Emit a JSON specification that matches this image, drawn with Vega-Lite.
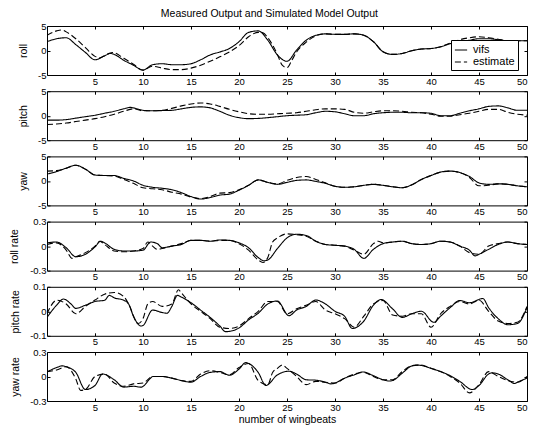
{
"$schema":"https://vega.github.io/schema/vega-lite/v6.json",
"padding":{"left":8,"top":9,"right":10,"bottom":0},
"title":{"text":"Measured Output and Simulated Model Output","fontSize":10.5,"fontWeight":"normal","anchor":"middle","offset":1,"color":"black"},
"config":{"font":"Liberation Sans","view":{"stroke":"black","strokeWidth":1},
"axis":{"grid":false,"domain":false,"tickColor":"black","tickSize":-3,"labelColor":"black","labelFontSize":9.5,"titleColor":"black","titleFontSize":10.5,"titleFontWeight":"normal","labelPadding":4,"titlePadding":5,"format":"~g","labelExpr":"replace(datum.label,'\u2212','-')"},
"axisY":{"titleBaseline":"middle"},
"line":{"strokeWidth":1.1,"color":"black"}},
"spacing":16.2,"bounds":"flush",
"resolve":{"scale":{"strokeDash":"independent"},"legend":{"strokeDash":"independent"}},
"datasets":{
"roll":[
{"x":0,"y":1.8,"s":"vifs"},{"x":1,"y":2.4,"s":"vifs"},{"x":2,"y":2.6,"s":"vifs"},{"x":3,"y":1.2,"s":"vifs"},{"x":4,"y":-0.4,"s":"vifs"},{"x":5,"y":-1.9,"s":"vifs"},{"x":6,"y":-1.1,"s":"vifs"},{"x":6.6,"y":-0.6,"s":"vifs"},{"x":7,"y":-0.8,"s":"vifs"},{"x":8,"y":-2.0,"s":"vifs"},{"x":9,"y":-3.0,"s":"vifs"},{"x":10,"y":-4.0,"s":"vifs"},{"x":11,"y":-2.9,"s":"vifs"},{"x":12,"y":-2.7,"s":"vifs"},{"x":13,"y":-2.9,"s":"vifs"},{"x":14,"y":-2.9,"s":"vifs"},{"x":15,"y":-2.7,"s":"vifs"},{"x":16,"y":-1.9,"s":"vifs"},{"x":17,"y":-0.9,"s":"vifs"},{"x":18,"y":-0.3,"s":"vifs"},{"x":19,"y":0.4,"s":"vifs"},{"x":20,"y":1.8,"s":"vifs"},{"x":21,"y":3.7,"s":"vifs"},{"x":22,"y":4.0,"s":"vifs"},{"x":23,"y":2.1,"s":"vifs"},{"x":24,"y":-0.9,"s":"vifs"},{"x":25,"y":-2.2,"s":"vifs"},{"x":26,"y":0.1,"s":"vifs"},{"x":27,"y":2.1,"s":"vifs"},{"x":28,"y":3.1,"s":"vifs"},{"x":29,"y":3.4,"s":"vifs"},{"x":30,"y":3.3,"s":"vifs"},{"x":31,"y":3.3,"s":"vifs"},{"x":32,"y":3.4,"s":"vifs"},{"x":33,"y":3.1,"s":"vifs"},{"x":34,"y":1.8,"s":"vifs"},{"x":35,"y":-0.25,"s":"vifs"},{"x":36,"y":-0.8,"s":"vifs"},{"x":37,"y":-0.6,"s":"vifs"},{"x":38,"y":-0.05,"s":"vifs"},{"x":39,"y":0.3,"s":"vifs"},{"x":40,"y":0.4,"s":"vifs"},{"x":41,"y":0.75,"s":"vifs"},{"x":42,"y":1.4,"s":"vifs"},{"x":43,"y":1.8,"s":"vifs"},{"x":44,"y":2.1,"s":"vifs"},{"x":45,"y":2.4,"s":"vifs"},{"x":46,"y":2.4,"s":"vifs"},{"x":47,"y":2.2,"s":"vifs"},{"x":48,"y":2.0,"s":"vifs"},{"x":49,"y":2.0,"s":"vifs"},{"x":50,"y":2.0,"s":"vifs"},
{"x":0,"y":3.1,"s":"estimate"},{"x":1,"y":4.0,"s":"estimate"},{"x":1.5,"y":4.2,"s":"estimate"},{"x":2,"y":3.8,"s":"estimate"},{"x":3,"y":2.4,"s":"estimate"},{"x":4,"y":0.6,"s":"estimate"},{"x":5,"y":-1.2,"s":"estimate"},{"x":5.5,"y":-1.5,"s":"estimate"},{"x":6,"y":-1.0,"s":"estimate"},{"x":6.8,"y":-0.4,"s":"estimate"},{"x":8,"y":-1.6,"s":"estimate"},{"x":9,"y":-2.8,"s":"estimate"},{"x":10,"y":-4.0,"s":"estimate"},{"x":11,"y":-3.2,"s":"estimate"},{"x":12,"y":-3.6,"s":"estimate"},{"x":13,"y":-3.9,"s":"estimate"},{"x":14,"y":-3.9,"s":"estimate"},{"x":15,"y":-3.6,"s":"estimate"},{"x":16,"y":-3.0,"s":"estimate"},{"x":17,"y":-2.2,"s":"estimate"},{"x":18,"y":-1.3,"s":"estimate"},{"x":19,"y":-0.3,"s":"estimate"},{"x":20,"y":1.0,"s":"estimate"},{"x":21,"y":2.8,"s":"estimate"},{"x":22,"y":3.7,"s":"estimate"},{"x":22.5,"y":3.6,"s":"estimate"},{"x":23,"y":2.6,"s":"estimate"},{"x":24,"y":-0.8,"s":"estimate"},{"x":24.5,"y":-3.0,"s":"estimate"},{"x":25,"y":-3.5,"s":"estimate"},{"x":25.5,"y":-2.0,"s":"estimate"},{"x":26,"y":-0.3,"s":"estimate"},{"x":27,"y":1.7,"s":"estimate"},{"x":28,"y":3.0,"s":"estimate"},{"x":29,"y":3.4,"s":"estimate"},{"x":30,"y":3.3,"s":"estimate"},{"x":31,"y":3.3,"s":"estimate"},{"x":32,"y":3.4,"s":"estimate"},{"x":33,"y":3.1,"s":"estimate"},{"x":34,"y":1.8,"s":"estimate"},{"x":35,"y":-0.25,"s":"estimate"},{"x":36,"y":-0.8,"s":"estimate"},{"x":37,"y":-0.6,"s":"estimate"},{"x":38,"y":-0.05,"s":"estimate"},{"x":39,"y":0.3,"s":"estimate"},{"x":40,"y":0.4,"s":"estimate"},{"x":41,"y":0.75,"s":"estimate"},{"x":42,"y":1.5,"s":"estimate"},{"x":43,"y":2.2,"s":"estimate"},{"x":44,"y":2.6,"s":"estimate"},{"x":45,"y":2.8,"s":"estimate"},{"x":46,"y":2.6,"s":"estimate"},{"x":47,"y":2.3,"s":"estimate"},{"x":48,"y":2.0,"s":"estimate"},{"x":49,"y":2.0,"s":"estimate"},{"x":50,"y":2.0,"s":"estimate"}],
"pitch":[
{"x":0,"y":-0.9,"s":"vifs"},{"x":1,"y":-0.9,"s":"vifs"},{"x":2,"y":-0.8,"s":"vifs"},{"x":3,"y":-0.5,"s":"vifs"},{"x":4,"y":-0.2,"s":"vifs"},{"x":5,"y":0.1,"s":"vifs"},{"x":6,"y":0.5,"s":"vifs"},{"x":7,"y":0.9,"s":"vifs"},{"x":8,"y":1.4,"s":"vifs"},{"x":8.7,"y":1.7,"s":"vifs"},{"x":9,"y":1.6,"s":"vifs"},{"x":10,"y":1.1,"s":"vifs"},{"x":11,"y":1.0,"s":"vifs"},{"x":12,"y":1.05,"s":"vifs"},{"x":13,"y":1.1,"s":"vifs"},{"x":14,"y":1.4,"s":"vifs"},{"x":15,"y":1.7,"s":"vifs"},{"x":16,"y":1.8,"s":"vifs"},{"x":17,"y":1.6,"s":"vifs"},{"x":18,"y":0.9,"s":"vifs"},{"x":19,"y":0.1,"s":"vifs"},{"x":20,"y":-0.4,"s":"vifs"},{"x":21,"y":-0.6,"s":"vifs"},{"x":22,"y":-0.55,"s":"vifs"},{"x":23,"y":-0.4,"s":"vifs"},{"x":24,"y":-0.2,"s":"vifs"},{"x":25,"y":0.0,"s":"vifs"},{"x":26,"y":0.1,"s":"vifs"},{"x":27,"y":0.2,"s":"vifs"},{"x":28,"y":0.6,"s":"vifs"},{"x":29,"y":0.9,"s":"vifs"},{"x":30,"y":0.8,"s":"vifs"},{"x":31,"y":0.4,"s":"vifs"},{"x":32,"y":0.0,"s":"vifs"},{"x":33,"y":0.0,"s":"vifs"},{"x":34,"y":0.4,"s":"vifs"},{"x":35,"y":0.6,"s":"vifs"},{"x":36,"y":0.7,"s":"vifs"},{"x":37,"y":0.7,"s":"vifs"},{"x":38,"y":0.6,"s":"vifs"},{"x":39,"y":0.6,"s":"vifs"},{"x":40,"y":0.5,"s":"vifs"},{"x":41,"y":0.0,"s":"vifs"},{"x":42,"y":0.0,"s":"vifs"},{"x":43,"y":0.5,"s":"vifs"},{"x":44,"y":1.0,"s":"vifs"},{"x":45,"y":1.4,"s":"vifs"},{"x":46,"y":1.9,"s":"vifs"},{"x":47,"y":2.0,"s":"vifs"},{"x":48,"y":1.6,"s":"vifs"},{"x":49,"y":1.1,"s":"vifs"},{"x":50,"y":1.1,"s":"vifs"},
{"x":0,"y":-1.8,"s":"estimate"},{"x":1,"y":-1.7,"s":"estimate"},{"x":2,"y":-1.5,"s":"estimate"},{"x":3,"y":-1.2,"s":"estimate"},{"x":4,"y":-0.9,"s":"estimate"},{"x":5,"y":-0.6,"s":"estimate"},{"x":6,"y":-0.2,"s":"estimate"},{"x":7,"y":0.3,"s":"estimate"},{"x":8,"y":0.9,"s":"estimate"},{"x":9,"y":1.4,"s":"estimate"},{"x":10,"y":1.0,"s":"estimate"},{"x":11,"y":1.0,"s":"estimate"},{"x":12,"y":1.1,"s":"estimate"},{"x":13,"y":1.5,"s":"estimate"},{"x":14,"y":2.0,"s":"estimate"},{"x":15,"y":2.4,"s":"estimate"},{"x":16,"y":2.6,"s":"estimate"},{"x":17,"y":2.4,"s":"estimate"},{"x":18,"y":1.9,"s":"estimate"},{"x":19,"y":1.3,"s":"estimate"},{"x":20,"y":0.8,"s":"estimate"},{"x":21,"y":0.4,"s":"estimate"},{"x":22,"y":0.3,"s":"estimate"},{"x":23,"y":0.3,"s":"estimate"},{"x":24,"y":0.4,"s":"estimate"},{"x":25,"y":0.5,"s":"estimate"},{"x":26,"y":0.6,"s":"estimate"},{"x":27,"y":0.9,"s":"estimate"},{"x":28,"y":1.2,"s":"estimate"},{"x":29,"y":1.4,"s":"estimate"},{"x":30,"y":1.4,"s":"estimate"},{"x":31,"y":1.3,"s":"estimate"},{"x":32,"y":0.7,"s":"estimate"},{"x":33,"y":0.5,"s":"estimate"},{"x":34,"y":0.8,"s":"estimate"},{"x":35,"y":1.0,"s":"estimate"},{"x":36,"y":1.0,"s":"estimate"},{"x":37,"y":0.9,"s":"estimate"},{"x":38,"y":0.7,"s":"estimate"},{"x":39,"y":0.6,"s":"estimate"},{"x":40,"y":0.3,"s":"estimate"},{"x":41,"y":-0.1,"s":"estimate"},{"x":42,"y":-0.1,"s":"estimate"},{"x":43,"y":0.2,"s":"estimate"},{"x":44,"y":0.5,"s":"estimate"},{"x":45,"y":0.9,"s":"estimate"},{"x":46,"y":1.3,"s":"estimate"},{"x":47,"y":1.3,"s":"estimate"},{"x":48,"y":0.7,"s":"estimate"},{"x":49,"y":0.3,"s":"estimate"},{"x":50,"y":0.1,"s":"estimate"}],
"yaw":[
{"x":0,"y":1.4,"s":"vifs"},{"x":1,"y":1.9,"s":"vifs"},{"x":2,"y":2.6,"s":"vifs"},{"x":3,"y":3.2,"s":"vifs"},{"x":4,"y":2.4,"s":"vifs"},{"x":5,"y":1.2,"s":"vifs"},{"x":6,"y":1.1,"s":"vifs"},{"x":7,"y":1.1,"s":"vifs"},{"x":8,"y":0.5,"s":"vifs"},{"x":9,"y":0.0,"s":"vifs"},{"x":10,"y":-0.9,"s":"vifs"},{"x":11,"y":-1.3,"s":"vifs"},{"x":12,"y":-1.5,"s":"vifs"},{"x":13,"y":-1.8,"s":"vifs"},{"x":14,"y":-2.4,"s":"vifs"},{"x":15,"y":-3.2,"s":"vifs"},{"x":16,"y":-3.7,"s":"vifs"},{"x":17,"y":-3.4,"s":"vifs"},{"x":18,"y":-2.9,"s":"vifs"},{"x":19,"y":-2.7,"s":"vifs"},{"x":20,"y":-1.9,"s":"vifs"},{"x":21,"y":-0.9,"s":"vifs"},{"x":22,"y":0.2,"s":"vifs"},{"x":23,"y":-0.3,"s":"vifs"},{"x":24,"y":-0.7,"s":"vifs"},{"x":25,"y":-0.3,"s":"vifs"},{"x":26,"y":0.1,"s":"vifs"},{"x":27,"y":0.2,"s":"vifs"},{"x":28,"y":-0.1,"s":"vifs"},{"x":29,"y":-0.5,"s":"vifs"},{"x":30,"y":-1.1,"s":"vifs"},{"x":31,"y":-1.3,"s":"vifs"},{"x":32,"y":-1.2,"s":"vifs"},{"x":33,"y":-0.9,"s":"vifs"},{"x":34,"y":-0.7,"s":"vifs"},{"x":35,"y":-0.9,"s":"vifs"},{"x":36,"y":-1.2,"s":"vifs"},{"x":37,"y":-1.4,"s":"vifs"},{"x":38,"y":-0.8,"s":"vifs"},{"x":39,"y":0.3,"s":"vifs"},{"x":40,"y":1.1,"s":"vifs"},{"x":41,"y":1.8,"s":"vifs"},{"x":42,"y":2.0,"s":"vifs"},{"x":43,"y":1.7,"s":"vifs"},{"x":44,"y":0.9,"s":"vifs"},{"x":45,"y":-0.4,"s":"vifs"},{"x":46,"y":-0.7,"s":"vifs"},{"x":47,"y":-0.6,"s":"vifs"},{"x":48,"y":-0.7,"s":"vifs"},{"x":49,"y":-1.0,"s":"vifs"},{"x":50,"y":-1.2,"s":"vifs"},
{"x":0,"y":2.0,"s":"estimate"},{"x":1,"y":2.1,"s":"estimate"},{"x":2,"y":2.6,"s":"estimate"},{"x":3,"y":3.2,"s":"estimate"},{"x":4,"y":2.4,"s":"estimate"},{"x":5,"y":1.2,"s":"estimate"},{"x":6,"y":1.1,"s":"estimate"},{"x":7,"y":1.0,"s":"estimate"},{"x":8,"y":0.3,"s":"estimate"},{"x":9,"y":-0.5,"s":"estimate"},{"x":10,"y":-1.4,"s":"estimate"},{"x":11,"y":-1.6,"s":"estimate"},{"x":12,"y":-1.8,"s":"estimate"},{"x":13,"y":-2.3,"s":"estimate"},{"x":14,"y":-2.7,"s":"estimate"},{"x":15,"y":-3.3,"s":"estimate"},{"x":16,"y":-3.6,"s":"estimate"},{"x":17,"y":-3.2,"s":"estimate"},{"x":18,"y":-2.5,"s":"estimate"},{"x":19,"y":-2.4,"s":"estimate"},{"x":20,"y":-1.8,"s":"estimate"},{"x":21,"y":-0.9,"s":"estimate"},{"x":22,"y":0.2,"s":"estimate"},{"x":23,"y":-0.3,"s":"estimate"},{"x":24,"y":-0.6,"s":"estimate"},{"x":25,"y":0.1,"s":"estimate"},{"x":26,"y":0.7,"s":"estimate"},{"x":27,"y":0.9,"s":"estimate"},{"x":28,"y":0.3,"s":"estimate"},{"x":29,"y":-0.4,"s":"estimate"},{"x":30,"y":-1.1,"s":"estimate"},{"x":31,"y":-1.3,"s":"estimate"},{"x":32,"y":-1.2,"s":"estimate"},{"x":33,"y":-0.9,"s":"estimate"},{"x":34,"y":-0.7,"s":"estimate"},{"x":35,"y":-0.9,"s":"estimate"},{"x":36,"y":-1.2,"s":"estimate"},{"x":37,"y":-1.4,"s":"estimate"},{"x":38,"y":-0.8,"s":"estimate"},{"x":39,"y":0.3,"s":"estimate"},{"x":40,"y":1.1,"s":"estimate"},{"x":41,"y":1.8,"s":"estimate"},{"x":42,"y":2.0,"s":"estimate"},{"x":43,"y":1.7,"s":"estimate"},{"x":44,"y":0.7,"s":"estimate"},{"x":45,"y":-1.0,"s":"estimate"},{"x":46,"y":-0.9,"s":"estimate"},{"x":47,"y":-0.6,"s":"estimate"},{"x":48,"y":-0.7,"s":"estimate"},{"x":49,"y":-1.0,"s":"estimate"},{"x":50,"y":-1.2,"s":"estimate"}],
"rollrate":[
{"x":0,"y":0.04,"s":"vifs"},{"x":1,"y":0.05,"s":"vifs"},{"x":2,"y":-0.02,"s":"vifs"},{"x":3,"y":-0.13,"s":"vifs"},{"x":4,"y":-0.1,"s":"vifs"},{"x":5,"y":-0.01,"s":"vifs"},{"x":5.6,"y":0.06,"s":"vifs"},{"x":6,"y":0.04,"s":"vifs"},{"x":7,"y":-0.04,"s":"vifs"},{"x":8,"y":-0.06,"s":"vifs"},{"x":9,"y":-0.06,"s":"vifs"},{"x":10,"y":-0.05,"s":"vifs"},{"x":10.8,"y":0.05,"s":"vifs"},{"x":11.5,"y":0.03,"s":"vifs"},{"x":12,"y":-0.02,"s":"vifs"},{"x":13,"y":0.0,"s":"vifs"},{"x":14,"y":0.02,"s":"vifs"},{"x":15,"y":0.07,"s":"vifs"},{"x":16,"y":0.07,"s":"vifs"},{"x":17,"y":0.06,"s":"vifs"},{"x":18,"y":0.075,"s":"vifs"},{"x":19,"y":0.07,"s":"vifs"},{"x":20,"y":0.04,"s":"vifs"},{"x":21,"y":-0.02,"s":"vifs"},{"x":22,"y":-0.14,"s":"vifs"},{"x":22.6,"y":-0.18,"s":"vifs"},{"x":23,"y":-0.17,"s":"vifs"},{"x":24,"y":-0.03,"s":"vifs"},{"x":25,"y":0.1,"s":"vifs"},{"x":26,"y":0.145,"s":"vifs"},{"x":27,"y":0.13,"s":"vifs"},{"x":28,"y":0.06,"s":"vifs"},{"x":29,"y":0.02,"s":"vifs"},{"x":30,"y":0.01,"s":"vifs"},{"x":31,"y":0.0,"s":"vifs"},{"x":32,"y":-0.04,"s":"vifs"},{"x":33,"y":-0.15,"s":"vifs"},{"x":34,"y":-0.04,"s":"vifs"},{"x":35,"y":0.03,"s":"vifs"},{"x":36,"y":0.05,"s":"vifs"},{"x":37,"y":0.06,"s":"vifs"},{"x":38,"y":0.03,"s":"vifs"},{"x":39,"y":0.02,"s":"vifs"},{"x":40,"y":0.03,"s":"vifs"},{"x":41,"y":0.06,"s":"vifs"},{"x":42,"y":0.05,"s":"vifs"},{"x":43,"y":0.0,"s":"vifs"},{"x":44,"y":-0.05,"s":"vifs"},{"x":44.6,"y":-0.12,"s":"vifs"},{"x":45,"y":-0.1,"s":"vifs"},{"x":46,"y":-0.04,"s":"vifs"},{"x":47,"y":0.02,"s":"vifs"},{"x":48,"y":0.05,"s":"vifs"},{"x":49,"y":0.03,"s":"vifs"},{"x":50,"y":0.02,"s":"vifs"},
{"x":0,"y":0.02,"s":"estimate"},{"x":1,"y":0.04,"s":"estimate"},{"x":2,"y":-0.05,"s":"estimate"},{"x":2.6,"y":-0.15,"s":"estimate"},{"x":3,"y":-0.13,"s":"estimate"},{"x":4,"y":-0.08,"s":"estimate"},{"x":5,"y":0.0,"s":"estimate"},{"x":5.5,"y":0.06,"s":"estimate"},{"x":6,"y":0.02,"s":"estimate"},{"x":7,"y":-0.06,"s":"estimate"},{"x":8,"y":-0.07,"s":"estimate"},{"x":9,"y":-0.06,"s":"estimate"},{"x":10,"y":-0.03,"s":"estimate"},{"x":10.5,"y":0.05,"s":"estimate"},{"x":11,"y":0.0,"s":"estimate"},{"x":11.5,"y":-0.04,"s":"estimate"},{"x":12,"y":-0.03,"s":"estimate"},{"x":13,"y":0.0,"s":"estimate"},{"x":14,"y":0.03,"s":"estimate"},{"x":15,"y":0.07,"s":"estimate"},{"x":16,"y":0.07,"s":"estimate"},{"x":17,"y":0.06,"s":"estimate"},{"x":18,"y":0.07,"s":"estimate"},{"x":19,"y":0.07,"s":"estimate"},{"x":20,"y":0.03,"s":"estimate"},{"x":21,"y":-0.05,"s":"estimate"},{"x":22,"y":-0.17,"s":"estimate"},{"x":22.5,"y":-0.2,"s":"estimate"},{"x":23,"y":-0.14,"s":"estimate"},{"x":23.5,"y":0.05,"s":"estimate"},{"x":24,"y":0.1,"s":"estimate"},{"x":25,"y":0.15,"s":"estimate"},{"x":26,"y":0.14,"s":"estimate"},{"x":27,"y":0.12,"s":"estimate"},{"x":28,"y":0.06,"s":"estimate"},{"x":29,"y":0.02,"s":"estimate"},{"x":30,"y":0.01,"s":"estimate"},{"x":31,"y":0.0,"s":"estimate"},{"x":32,"y":-0.05,"s":"estimate"},{"x":33,"y":-0.1,"s":"estimate"},{"x":34,"y":0.03,"s":"estimate"},{"x":34.5,"y":0.06,"s":"estimate"},{"x":35,"y":0.04,"s":"estimate"},{"x":36,"y":0.05,"s":"estimate"},{"x":37,"y":0.06,"s":"estimate"},{"x":38,"y":0.03,"s":"estimate"},{"x":39,"y":0.02,"s":"estimate"},{"x":40,"y":0.03,"s":"estimate"},{"x":41,"y":0.06,"s":"estimate"},{"x":42,"y":0.05,"s":"estimate"},{"x":43,"y":0.0,"s":"estimate"},{"x":44,"y":-0.08,"s":"estimate"},{"x":45,"y":-0.1,"s":"estimate"},{"x":46,"y":0.0,"s":"estimate"},{"x":47,"y":0.03,"s":"estimate"},{"x":48,"y":0.05,"s":"estimate"},{"x":49,"y":0.03,"s":"estimate"},{"x":50,"y":0.02,"s":"estimate"}],
"pitchrate":[
{"x":0,"y":-0.025,"s":"vifs"},{"x":1,"y":0.025,"s":"vifs"},{"x":1.7,"y":0.05,"s":"vifs"},{"x":2.5,"y":0.03,"s":"vifs"},{"x":3,"y":0.012,"s":"vifs"},{"x":4,"y":0.025,"s":"vifs"},{"x":5,"y":0.04,"s":"vifs"},{"x":6,"y":0.045,"s":"vifs"},{"x":6.5,"y":0.065,"s":"vifs"},{"x":7,"y":0.055,"s":"vifs"},{"x":8,"y":0.045,"s":"vifs"},{"x":8.5,"y":0.03,"s":"vifs"},{"x":9,"y":-0.02,"s":"vifs"},{"x":9.8,"y":-0.06,"s":"vifs"},{"x":10,"y":-0.058,"s":"vifs"},{"x":11,"y":0.005,"s":"vifs"},{"x":12,"y":-0.005,"s":"vifs"},{"x":12.5,"y":-0.008,"s":"vifs"},{"x":13,"y":0.02,"s":"vifs"},{"x":13.6,"y":0.065,"s":"vifs"},{"x":14,"y":0.058,"s":"vifs"},{"x":15,"y":0.035,"s":"vifs"},{"x":16,"y":0.005,"s":"vifs"},{"x":17,"y":-0.025,"s":"vifs"},{"x":18,"y":-0.06,"s":"vifs"},{"x":18.6,"y":-0.083,"s":"vifs"},{"x":19,"y":-0.082,"s":"vifs"},{"x":20,"y":-0.068,"s":"vifs"},{"x":21,"y":-0.035,"s":"vifs"},{"x":22,"y":-0.008,"s":"vifs"},{"x":23,"y":0.03,"s":"vifs"},{"x":24,"y":0.042,"s":"vifs"},{"x":25.2,"y":-0.018,"s":"vifs"},{"x":26,"y":0.005,"s":"vifs"},{"x":27,"y":0.02,"s":"vifs"},{"x":28,"y":0.046,"s":"vifs"},{"x":29,"y":0.03,"s":"vifs"},{"x":30,"y":0.0,"s":"vifs"},{"x":31,"y":-0.02,"s":"vifs"},{"x":31.8,"y":-0.07,"s":"vifs"},{"x":33,"y":-0.04,"s":"vifs"},{"x":34,"y":0.025,"s":"vifs"},{"x":34.8,"y":0.048,"s":"vifs"},{"x":36,"y":0.01,"s":"vifs"},{"x":37,"y":-0.025,"s":"vifs"},{"x":38,"y":-0.01,"s":"vifs"},{"x":39,"y":0.0,"s":"vifs"},{"x":40.3,"y":-0.045,"s":"vifs"},{"x":41,"y":-0.02,"s":"vifs"},{"x":42,"y":0.015,"s":"vifs"},{"x":43,"y":0.044,"s":"vifs"},{"x":44,"y":0.035,"s":"vifs"},{"x":45.4,"y":0.052,"s":"vifs"},{"x":46,"y":0.015,"s":"vifs"},{"x":47,"y":-0.03,"s":"vifs"},{"x":48,"y":-0.055,"s":"vifs"},{"x":49,"y":-0.05,"s":"vifs"},{"x":50,"y":0.015,"s":"vifs"},
{"x":0,"y":-0.01,"s":"estimate"},{"x":1,"y":0.045,"s":"estimate"},{"x":2,"y":0.03,"s":"estimate"},{"x":3,"y":-0.01,"s":"estimate"},{"x":4,"y":0.02,"s":"estimate"},{"x":5,"y":0.046,"s":"estimate"},{"x":6,"y":0.07,"s":"estimate"},{"x":7,"y":0.077,"s":"estimate"},{"x":8,"y":0.06,"s":"estimate"},{"x":8.5,"y":0.03,"s":"estimate"},{"x":9.5,"y":-0.05,"s":"estimate"},{"x":10,"y":-0.03,"s":"estimate"},{"x":10.5,"y":0.03,"s":"estimate"},{"x":11,"y":0.04,"s":"estimate"},{"x":12,"y":0.02,"s":"estimate"},{"x":13,"y":0.03,"s":"estimate"},{"x":13.7,"y":0.088,"s":"estimate"},{"x":14,"y":0.075,"s":"estimate"},{"x":15,"y":0.03,"s":"estimate"},{"x":16,"y":0.0,"s":"estimate"},{"x":17,"y":-0.03,"s":"estimate"},{"x":18,"y":-0.065,"s":"estimate"},{"x":19,"y":-0.07,"s":"estimate"},{"x":20,"y":-0.06,"s":"estimate"},{"x":21,"y":-0.03,"s":"estimate"},{"x":22,"y":0.0,"s":"estimate"},{"x":23,"y":0.04,"s":"estimate"},{"x":24,"y":0.04,"s":"estimate"},{"x":25,"y":-0.01,"s":"estimate"},{"x":26,"y":0.01,"s":"estimate"},{"x":27,"y":0.025,"s":"estimate"},{"x":28,"y":0.04,"s":"estimate"},{"x":29,"y":0.005,"s":"estimate"},{"x":30,"y":-0.01,"s":"estimate"},{"x":31,"y":-0.03,"s":"estimate"},{"x":32,"y":-0.065,"s":"estimate"},{"x":33,"y":-0.02,"s":"estimate"},{"x":34,"y":0.03,"s":"estimate"},{"x":35,"y":0.044,"s":"estimate"},{"x":36,"y":-0.015,"s":"estimate"},{"x":37,"y":-0.02,"s":"estimate"},{"x":38,"y":-0.01,"s":"estimate"},{"x":39,"y":-0.01,"s":"estimate"},{"x":40,"y":-0.065,"s":"estimate"},{"x":41,"y":-0.01,"s":"estimate"},{"x":42,"y":0.02,"s":"estimate"},{"x":43,"y":0.04,"s":"estimate"},{"x":44,"y":0.03,"s":"estimate"},{"x":45,"y":0.045,"s":"estimate"},{"x":46,"y":0.0,"s":"estimate"},{"x":47,"y":-0.04,"s":"estimate"},{"x":48,"y":-0.05,"s":"estimate"},{"x":49,"y":-0.045,"s":"estimate"},{"x":50,"y":0.02,"s":"estimate"}],
"yawrate":[
{"x":0,"y":0.055,"s":"vifs"},{"x":1,"y":0.11,"s":"vifs"},{"x":1.6,"y":0.13,"s":"vifs"},{"x":2,"y":0.12,"s":"vifs"},{"x":3,"y":0.05,"s":"vifs"},{"x":4,"y":-0.16,"s":"vifs"},{"x":5,"y":-0.11,"s":"vifs"},{"x":5.8,"y":0.03,"s":"vifs"},{"x":7,"y":-0.04,"s":"vifs"},{"x":8,"y":-0.13,"s":"vifs"},{"x":9,"y":-0.12,"s":"vifs"},{"x":9.8,"y":-0.13,"s":"vifs"},{"x":10.8,"y":-0.02,"s":"vifs"},{"x":11,"y":0.0,"s":"vifs"},{"x":12,"y":0.0,"s":"vifs"},{"x":13,"y":-0.02,"s":"vifs"},{"x":14,"y":-0.05,"s":"vifs"},{"x":15,"y":-0.07,"s":"vifs"},{"x":16,"y":0.0,"s":"vifs"},{"x":17,"y":0.05,"s":"vifs"},{"x":18,"y":0.06,"s":"vifs"},{"x":19,"y":0.016,"s":"vifs"},{"x":20,"y":0.09,"s":"vifs"},{"x":20.7,"y":0.17,"s":"vifs"},{"x":21,"y":0.16,"s":"vifs"},{"x":22,"y":0.05,"s":"vifs"},{"x":22.8,"y":-0.11,"s":"vifs"},{"x":24,"y":0.02,"s":"vifs"},{"x":25.2,"y":0.065,"s":"vifs"},{"x":26,"y":0.03,"s":"vifs"},{"x":27,"y":-0.04,"s":"vifs"},{"x":28,"y":-0.045,"s":"vifs"},{"x":29,"y":-0.07,"s":"vifs"},{"x":29.6,"y":-0.09,"s":"vifs"},{"x":30,"y":-0.08,"s":"vifs"},{"x":31,"y":-0.02,"s":"vifs"},{"x":32,"y":0.02,"s":"vifs"},{"x":32.9,"y":0.056,"s":"vifs"},{"x":34,"y":0.01,"s":"vifs"},{"x":35,"y":-0.04,"s":"vifs"},{"x":35.7,"y":-0.056,"s":"vifs"},{"x":36,"y":-0.05,"s":"vifs"},{"x":37,"y":0.04,"s":"vifs"},{"x":38,"y":0.13,"s":"vifs"},{"x":38.5,"y":0.14,"s":"vifs"},{"x":39,"y":0.135,"s":"vifs"},{"x":40,"y":0.1,"s":"vifs"},{"x":41,"y":0.06,"s":"vifs"},{"x":42,"y":0.01,"s":"vifs"},{"x":43,"y":-0.06,"s":"vifs"},{"x":44.3,"y":-0.16,"s":"vifs"},{"x":45,"y":-0.11,"s":"vifs"},{"x":46,"y":0.03,"s":"vifs"},{"x":46.3,"y":0.045,"s":"vifs"},{"x":47,"y":0.03,"s":"vifs"},{"x":48,"y":-0.04,"s":"vifs"},{"x":48.7,"y":-0.086,"s":"vifs"},{"x":49,"y":-0.07,"s":"vifs"},{"x":50,"y":-0.02,"s":"vifs"},
{"x":0,"y":0.06,"s":"estimate"},{"x":1,"y":0.08,"s":"estimate"},{"x":2,"y":0.12,"s":"estimate"},{"x":3,"y":-0.03,"s":"estimate"},{"x":3.5,"y":-0.17,"s":"estimate"},{"x":4,"y":-0.16,"s":"estimate"},{"x":5,"y":0.0,"s":"estimate"},{"x":6,"y":0.03,"s":"estimate"},{"x":7,"y":-0.08,"s":"estimate"},{"x":8,"y":-0.12,"s":"estimate"},{"x":9,"y":-0.09,"s":"estimate"},{"x":10,"y":-0.08,"s":"estimate"},{"x":11,"y":0.0,"s":"estimate"},{"x":12,"y":0.0,"s":"estimate"},{"x":13,"y":-0.02,"s":"estimate"},{"x":14,"y":-0.05,"s":"estimate"},{"x":15,"y":-0.06,"s":"estimate"},{"x":16,"y":0.03,"s":"estimate"},{"x":17,"y":0.07,"s":"estimate"},{"x":18,"y":0.05,"s":"estimate"},{"x":19,"y":0.02,"s":"estimate"},{"x":20,"y":0.11,"s":"estimate"},{"x":21,"y":0.16,"s":"estimate"},{"x":22,"y":-0.05,"s":"estimate"},{"x":23,"y":-0.1,"s":"estimate"},{"x":23.5,"y":0.05,"s":"estimate"},{"x":24,"y":0.1,"s":"estimate"},{"x":24.5,"y":0.14,"s":"estimate"},{"x":25,"y":0.1,"s":"estimate"},{"x":26,"y":0.0,"s":"estimate"},{"x":27,"y":-0.1,"s":"estimate"},{"x":28,"y":-0.06,"s":"estimate"},{"x":29,"y":-0.07,"s":"estimate"},{"x":30,"y":-0.08,"s":"estimate"},{"x":31,"y":-0.02,"s":"estimate"},{"x":32,"y":0.03,"s":"estimate"},{"x":33,"y":0.05,"s":"estimate"},{"x":34,"y":0.0,"s":"estimate"},{"x":35,"y":-0.04,"s":"estimate"},{"x":36,"y":-0.04,"s":"estimate"},{"x":37,"y":0.06,"s":"estimate"},{"x":38,"y":0.13,"s":"estimate"},{"x":39,"y":0.14,"s":"estimate"},{"x":40,"y":0.1,"s":"estimate"},{"x":41,"y":0.06,"s":"estimate"},{"x":42,"y":0.0,"s":"estimate"},{"x":43,"y":-0.08,"s":"estimate"},{"x":44,"y":-0.2,"s":"estimate"},{"x":45,"y":-0.1,"s":"estimate"},{"x":46,"y":0.06,"s":"estimate"},{"x":47,"y":0.0,"s":"estimate"},{"x":48,"y":-0.05,"s":"estimate"},{"x":49,"y":-0.07,"s":"estimate"},{"x":50,"y":0.0,"s":"estimate"}]
},
"vconcat":[
{"width":480,"height":49,"data":{"name":"roll"},
"layer":[
{"mark":{"type":"line","interpolate":"monotone","clip":true},"encoding":{
"x":{"field":"x","type":"quantitative","scale":{"domain":[0,50],"nice":false},"axis":{"values":[5,10,15,20,25,30,35,40,45,50],"title":null}},
"y":{"field":"y","type":"quantitative","scale":{"domain":[-5,5],"nice":false},"axis":{"values":[-5,0,5],"title":"roll","titleX":-24}},
"strokeDash":{"field":"s","type":"nominal","scale":{"domain":["vifs","estimate"],"range":[[1,0],[6,3]]},
"legend":{"orient":"none","legendX":404,"legendY":14,"title":null,"strokeColor":"black","fillColor":"white","padding":3,"symbolType":"stroke","symbolSize":150,"symbolStrokeWidth":1.1,"symbolStrokeColor":"black","labelFontSize":11,"labelColor":"black","rowPadding":0,"labelOffset":5}}}},
{"mark":{"type":"point","opacity":0},"encoding":{
"x":{"field":"x","type":"quantitative","axis":{"orient":"top","values":[5,10,15,20,25,30,35,40,45,50],"labels":false,"title":null}},
"y":{"field":"y","type":"quantitative","axis":{"orient":"right","values":[-5,0,5],"labels":false,"title":null}}}}
],"resolve":{"axis":{"x":"independent","y":"independent"}}},
{"width":480,"height":49,"data":{"name":"pitch"},
"layer":[
{"mark":{"type":"line","interpolate":"monotone","clip":true},"encoding":{
"x":{"field":"x","type":"quantitative","scale":{"domain":[0,50],"nice":false},"axis":{"values":[5,10,15,20,25,30,35,40,45,50],"title":null}},
"y":{"field":"y","type":"quantitative","scale":{"domain":[-5,5],"nice":false},"axis":{"values":[-5,0,5],"title":"pitch","titleX":-24}},
"strokeDash":{"field":"s","type":"nominal","scale":{"domain":["vifs","estimate"],"range":[[1,0],[6,3]]},"legend":null}}},
{"mark":{"type":"point","opacity":0},"encoding":{
"x":{"field":"x","type":"quantitative","axis":{"orient":"top","values":[5,10,15,20,25,30,35,40,45,50],"labels":false,"title":null}},
"y":{"field":"y","type":"quantitative","axis":{"orient":"right","values":[-5,0,5],"labels":false,"title":null}}}}
],"resolve":{"axis":{"x":"independent","y":"independent"}}},
{"width":480,"height":49,"data":{"name":"yaw"},
"layer":[
{"mark":{"type":"line","interpolate":"monotone","clip":true},"encoding":{
"x":{"field":"x","type":"quantitative","scale":{"domain":[0,50],"nice":false},"axis":{"values":[5,10,15,20,25,30,35,40,45,50],"title":null}},
"y":{"field":"y","type":"quantitative","scale":{"domain":[-5,5],"nice":false},"axis":{"values":[-5,0,5],"title":"yaw","titleX":-24}},
"strokeDash":{"field":"s","type":"nominal","scale":{"domain":["vifs","estimate"],"range":[[1,0],[6,3]]},"legend":null}}},
{"mark":{"type":"point","opacity":0},"encoding":{
"x":{"field":"x","type":"quantitative","axis":{"orient":"top","values":[5,10,15,20,25,30,35,40,45,50],"labels":false,"title":null}},
"y":{"field":"y","type":"quantitative","axis":{"orient":"right","values":[-5,0,5],"labels":false,"title":null}}}}
],"resolve":{"axis":{"x":"independent","y":"independent"}}},
{"width":480,"height":49,"data":{"name":"rollrate"},
"layer":[
{"mark":{"type":"line","interpolate":"monotone","clip":true},"encoding":{
"x":{"field":"x","type":"quantitative","scale":{"domain":[0,50],"nice":false},"axis":{"values":[5,10,15,20,25,30,35,40,45,50],"title":null}},
"y":{"field":"y","type":"quantitative","scale":{"domain":[-0.3,0.3],"nice":false},"axis":{"values":[-0.3,0,0.3],"title":"roll rate","titleX":-33}},
"strokeDash":{"field":"s","type":"nominal","scale":{"domain":["vifs","estimate"],"range":[[1,0],[6,3]]},"legend":null}}},
{"mark":{"type":"point","opacity":0},"encoding":{
"x":{"field":"x","type":"quantitative","axis":{"orient":"top","values":[5,10,15,20,25,30,35,40,45,50],"labels":false,"title":null}},
"y":{"field":"y","type":"quantitative","axis":{"orient":"right","values":[-0.3,0,0.3],"labels":false,"title":null}}}}
],"resolve":{"axis":{"x":"independent","y":"independent"}}},
{"width":480,"height":49,"data":{"name":"pitchrate"},
"layer":[
{"mark":{"type":"line","interpolate":"monotone","clip":true},"encoding":{
"x":{"field":"x","type":"quantitative","scale":{"domain":[0,50],"nice":false},"axis":{"values":[5,10,15,20,25,30,35,40,45,50],"title":null}},
"y":{"field":"y","type":"quantitative","scale":{"domain":[-0.1,0.1],"nice":false},"axis":{"values":[-0.1,0,0.1],"title":"pitch rate","titleX":-32}},
"strokeDash":{"field":"s","type":"nominal","scale":{"domain":["vifs","estimate"],"range":[[1,0],[6,3]]},"legend":null}}},
{"mark":{"type":"point","opacity":0},"encoding":{
"x":{"field":"x","type":"quantitative","axis":{"orient":"top","values":[5,10,15,20,25,30,35,40,45,50],"labels":false,"title":null}},
"y":{"field":"y","type":"quantitative","axis":{"orient":"right","values":[-0.1,0,0.1],"labels":false,"title":null}}}}
],"resolve":{"axis":{"x":"independent","y":"independent"}}},
{"width":480,"height":49,"data":{"name":"yawrate"},
"layer":[
{"mark":{"type":"line","interpolate":"monotone","clip":true},"encoding":{
"x":{"field":"x","type":"quantitative","scale":{"domain":[0,50],"nice":false},"axis":{"values":[5,10,15,20,25,30,35,40,45,50],"title":"number of wingbeats","titlePadding":3}},
"y":{"field":"y","type":"quantitative","scale":{"domain":[-0.3,0.3],"nice":false},"axis":{"values":[-0.3,0,0.3],"title":"yaw rate","titleX":-32}},
"strokeDash":{"field":"s","type":"nominal","scale":{"domain":["vifs","estimate"],"range":[[1,0],[6,3]]},"legend":null}}},
{"mark":{"type":"point","opacity":0},"encoding":{
"x":{"field":"x","type":"quantitative","axis":{"orient":"top","values":[5,10,15,20,25,30,35,40,45,50],"labels":false,"title":null}},
"y":{"field":"y","type":"quantitative","axis":{"orient":"right","values":[-0.3,0,0.3],"labels":false,"title":null}}}}
],"resolve":{"axis":{"x":"independent","y":"independent"}}}
]
}
